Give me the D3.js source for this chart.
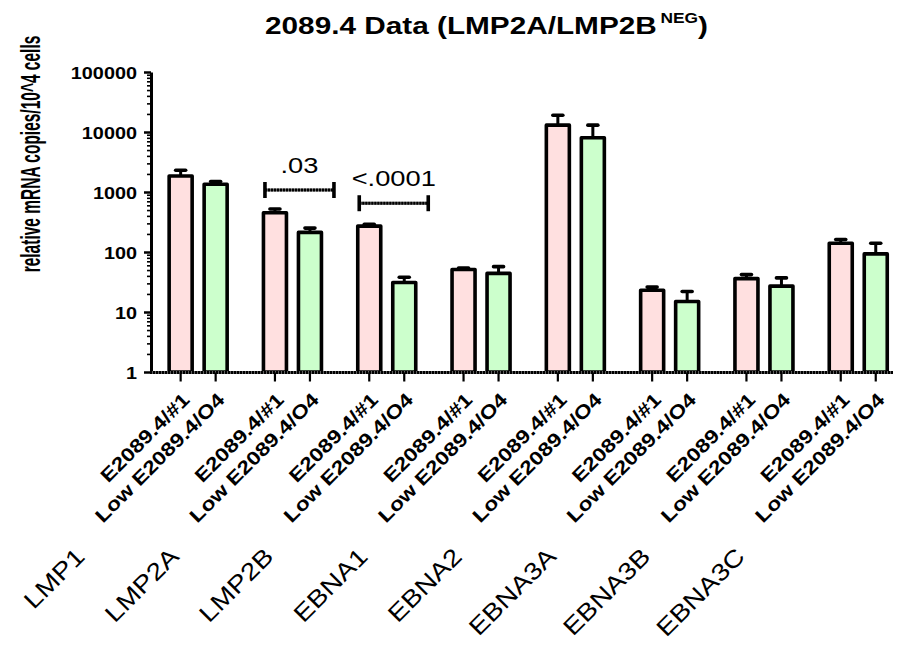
<!DOCTYPE html>
<html>
<head>
<meta charset="utf-8">
<script src="https://cdn.jsdelivr.net/npm/d3@7"></script>
<style>
  body { margin: 0; background: #fff; }
  svg { display: block; }
</style>
</head>
<body>
<svg id="chart" width="902" height="649"></svg>
<script>
// Transcript groups and the two cell lines compared in each
const categories = ["LMP1", "LMP2A", "LMP2B", "EBNA1", "EBNA2", "EBNA3A", "EBNA3B", "EBNA3C"];
const seriesNames = ["E2089.4/#1", "Low E2089.4/O4"];

// Mean copies per 10^4 cells and the top of each error bar (mean + SEM)
const highMeans = [1850, 450, 270, 51, 13000, 23, 36, 140];
const highUpper = [2300, 520, 290, 54, 19000, 26, 42, 162];
const lowMeans  = [1350, 212, 31, 44, 8000, 15, 27, 93];
const lowUpper  = [1500, 250, 38, 57, 13000, 22, 37, 140];

const yTickValues = [1, 10, 100, 1000, 10000, 100000];

// Significance brackets
const bracketGroups = ["LMP2A", "LMP2B"];
const bracketLabels = [".03", "<.0001"];
const bracketLevels = [1080, 650];

const seriesFill = ["#FFE0E0", "#CCFFCC"];
const FONT = "'Liberation Sans', Arial, Helvetica, sans-serif";
const SX = 1.24; // horizontal widening applied to the upright text

const svg = d3.select("#chart");

const y = d3.scaleLog().domain([1, 100000]).range([372, 72]);
const x0 = d3.scaleBand().domain(categories).range([151, 905.4]);
const x1 = d3.scaleBand().domain(seriesNames).range([-35, 35]);
const groupCenter = c => x0(c) + x0.bandwidth() / 2;
const barCenter = (c, s) => groupCenter(c) + x1(s) + x1.bandwidth() / 2;

const rows = [];
categories.forEach((c, i) => {
  rows.push({cat: c, s: seriesNames[0], si: 0, v: highMeans[i], up: highUpper[i]});
  rows.push({cat: c, s: seriesNames[1], si: 1, v: lowMeans[i], up: lowUpper[i]});
});

const barW = 23;

// Error bars (upper only)
const err = svg.append("g").attr("class", "errors");
err.selectAll("line.stem").data(rows).join("line")
  .attr("class", "stem")
  .attr("x1", d => barCenter(d.cat, d.s)).attr("x2", d => barCenter(d.cat, d.s))
  .attr("y1", d => y(d.v)).attr("y2", d => y(d.up))
  .attr("stroke", "#000").attr("stroke-width", 3);
err.selectAll("line.cap").data(rows).join("line")
  .attr("class", "cap")
  .attr("x1", d => barCenter(d.cat, d.s) - 5).attr("x2", d => barCenter(d.cat, d.s) + 5)
  .attr("y1", d => y(d.up)).attr("y2", d => y(d.up))
  .attr("stroke", "#000").attr("stroke-width", 3.6).attr("stroke-linecap", "round");

// Bars
svg.append("g").attr("class", "bars")
  .selectAll("rect").data(rows).join("rect")
  .attr("x", d => barCenter(d.cat, d.s) - barW / 2)
  .attr("width", barW)
  .attr("y", d => y(d.v))
  .attr("height", d => y(1) - y(d.v))
  .attr("fill", d => seriesFill[d.si])
  .attr("stroke", "#000").attr("stroke-width", 3.6)
  .attr("stroke-linejoin", "round");

// Y axis with log minor ticks
const minorTicks = [];
for (let e = 0; e < 5; e++) for (let m = 2; m <= 9; m++) minorTicks.push(m * Math.pow(10, e));

const yMinor = svg.append("g").attr("transform", "translate(151,0)")
  .call(d3.axisLeft(y).tickValues(minorTicks).tickSize(4).tickSizeOuter(0).tickFormat(""));
yMinor.select(".domain").remove();
yMinor.selectAll(".tick line").attr("stroke", "#000").attr("stroke-width", 1.6);

const yAxis = svg.append("g").attr("transform", "translate(151,0)")
  .call(d3.axisLeft(y).tickValues(yTickValues).tickSize(7).tickSizeOuter(0).tickFormat(d3.format("d")));
yAxis.select(".domain").attr("stroke", "#000").attr("stroke-width", 3);
yAxis.selectAll(".tick line").attr("stroke", "#000").attr("stroke-width", 2.5);
yAxis.selectAll(".tick text")
  .attr("x", null).attr("dy", null)
  .attr("transform", "translate(-14,6) scale(" + SX + ",1)")
  .attr("text-anchor", "end")
  .attr("font-family", FONT).attr("font-weight", "bold").attr("font-size", 16)
  .attr("fill", "#000");

// X axis baseline
const xAxisY = y(1) + 0.5;
svg.append("line")
  .attr("x1", 150).attr("x2", 893).attr("y1", xAxisY).attr("y2", xAxisY)
  .attr("stroke", "#777").attr("stroke-width", 3);
svg.append("line")
  .attr("x1", 150).attr("x2", 893).attr("y1", xAxisY).attr("y2", xAxisY)
  .attr("stroke", "#000").attr("stroke-width", 3).attr("stroke-dasharray", "2.2 0.8");

// X ticks under each bar
svg.append("g").selectAll("line").data(rows).join("line")
  .attr("x1", d => barCenter(d.cat, d.s)).attr("x2", d => barCenter(d.cat, d.s))
  .attr("y1", xAxisY).attr("y2", xAxisY + 9)
  .attr("stroke", "#000").attr("stroke-width", 2.2);

// Bar labels (cell line)
svg.append("g").selectAll("text").data(rows).join("text")
  .attr("transform", d => "translate(" + (barCenter(d.cat, d.s) + 10) + ",401) rotate(-45) scale(1.2,1)")
  .attr("text-anchor", "end")
  .attr("font-family", FONT).attr("font-weight", "bold").attr("font-size", 19)
  .attr("fill", "#000")
  .text(d => d.s);

// Group labels (transcript)
svg.append("g").selectAll("text").data(categories).join("text")
  .attr("transform", c => "translate(" + (groupCenter(c) - 112) + ",558) rotate(-45) scale(1.18,1)")
  .attr("text-anchor", "end")
  .attr("font-family", FONT).attr("font-size", 24)
  .attr("fill", "#000")
  .text(c => c);

// Significance brackets
bracketGroups.forEach((c, i) => {
  const xa = barCenter(c, seriesNames[0]) - 10;
  const xb = barCenter(c, seriesNames[1]) + 24;
  const yb = y(bracketLevels[i]);
  const g = svg.append("g");
  g.append("line").attr("x1", xa).attr("x2", xb).attr("y1", yb).attr("y2", yb)
    .attr("stroke", "#777").attr("stroke-width", 3);
  g.append("line").attr("x1", xa).attr("x2", xb).attr("y1", yb).attr("y2", yb)
    .attr("stroke", "#000").attr("stroke-width", 3).attr("stroke-dasharray", "2.2 0.8");
  [xa, xb].forEach(xx => g.append("line")
    .attr("x1", xx).attr("x2", xx).attr("y1", yb - 8).attr("y2", yb + 8)
    .attr("stroke", "#000").attr("stroke-width", 3.6));
  g.append("text")
    .attr("transform", "translate(" + ((xa + xb) / 2) + "," + (yb - 17) + ") scale(" + SX + ",1)")
    .attr("text-anchor", "middle")
    .attr("font-family", FONT).attr("font-size", 22).attr("fill", "#000")
    .text(bracketLabels[i]);
});

// Title
const title = svg.append("text")
  .attr("transform", "translate(486.5,34) scale(" + SX + ",1)")
  .attr("text-anchor", "middle")
  .attr("font-family", FONT).attr("font-weight", "bold").attr("font-size", 24)
  .attr("fill", "#000");
title.append("tspan").text("2089.4 Data (LMP2A/LMP2B");
title.append("tspan").attr("font-size", 14).attr("dy", -11).attr("dx", 3).text("NEG");
title.append("tspan").attr("dy", 11).text(")");

// Y axis title
svg.append("text")
  .attr("transform", "translate(40,154) scale(1.75,1) rotate(-90)")
  .attr("text-anchor", "middle")
  .attr("font-family", FONT).attr("font-weight", "bold").attr("font-size", 15.5)
  .attr("fill", "#000")
  .text("relative mRNA copies/10^4 cells");
</script>
</body>
</html>
